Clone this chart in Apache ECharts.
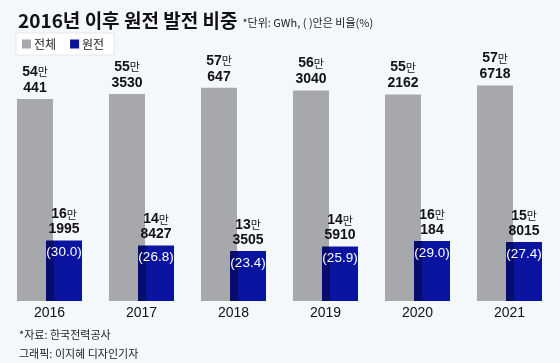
<!DOCTYPE html>
<html><head><meta charset="utf-8">
<script src="https://cdn.jsdelivr.net/npm/echarts@6/dist/echarts.min.js"></script>
<style>html,body{margin:0;padding:0;background:#f4f8fc}#c{width:560px;height:363px}</style>
</head><body><div id="c"></div>
<script>
var years = ['2016','2017','2018','2019','2020','2021'];
var totalGen = [540441, 553530, 570647, 563040, 552162, 576718];
var nuclearGen = [161995, 148427, 133505, 145910, 160184, 158015];
var nuclearShare = ['30.0','26.8','23.4','25.9','29.0','27.4'];

var FN = '"Liberation Sans", "Noto Sans CJK KR", sans-serif';
var FK = '"Noto Sans CJK KR", sans-serif';
var GRAY = '#a7a8ab', BLUE = '#0b14a0', DARK = '#070d6c';

function man(v){ return Math.floor(v/10000); }
function rest(v){ return v % 10000; }

var chart = echarts.init(document.getElementById('c'), null, {renderer:'canvas'});
chart.setOption({
  backgroundColor: '#f4f8fc',
  animation: false,
  title: [{
    left: 13, top: 6,
    text: '{t|2016년 이후 원전 발전 비중} {s|*단위: GWh, ( )안은 비율(%)}',
    textStyle: { rich: {
      t: { fontFamily: FK, fontSize: 19, fontWeight: 'bold', color: '#111' },
      s: { fontFamily: FK, fontSize: 11, fontWeight: 'normal', color: '#222', padding: [4,0,0,0] }
    }}
  },{
    left: 14, top: 320,
    text: '*자료: 한국전력공사\n그래픽: 이지혜 디자인기자',
    textStyle: { fontFamily: FK, fontSize: 11, fontWeight: 'normal', color: '#222', lineHeight: 19 }
  }],
  legend: {
    left: 16, top: 33,
    backgroundColor: '#ffffff', borderColor: '#e3e7ec', borderWidth: 1,
    padding: [5, 10, 5, 6],
    itemWidth: 9, itemHeight: 9, itemGap: 14, icon: 'rect',
    textStyle: { fontFamily: FK, fontSize: 12, color: '#222', padding: [0,0,0,-2] },
    data: [{name:'전체', itemStyle:{color:GRAY}}, {name:'원전', itemStyle:{color:BLUE}}]
  },
  grid: { left: 3.5, width: 552, top: 76.7, bottom: 62 },
  xAxis: {
    type: 'category', data: years,
    axisLine: {show:false}, axisTick: {show:false},
    axisLabel: { fontFamily: FN, fontSize: 14, color: '#111', margin: 5 }
  },
  yAxis: { type: 'value', min: 0, max: 600000, show: false, splitLine: {show:false} },
  series: [{
    name: '전체', type: 'bar', data: totalGen, barWidth: 36, barGap: '-19.4%',
    itemStyle: { color: GRAY },
    label: {
      show: true, position: 'top', distance: 3,
      formatter: function(p){ return '{a|' + man(p.value) + '}{b|만}\n{a|' + rest(p.value) + '}'; },
      rich: {
        a: { fontFamily: FN, fontSize: 14, fontWeight: 'bold', color: '#111', lineHeight: 16 },
        b: { fontFamily: FK, fontSize: 11, color: '#111', lineHeight: 16 }
      }
    }
  },{
    name: '원전', type: 'bar', data: nuclearGen, barWidth: 36,
    itemStyle: { color: new echarts.graphic.LinearGradient(0,0,1,0,[
      {offset:0, color:DARK},{offset:0.21, color:DARK},{offset:0.21, color:BLUE},{offset:1, color:BLUE}]) },
    label: {
      show: true, position: 'insideTop', distance: 0, offset: [0, -33.5],
      formatter: function(p){ return '{a|' + man(p.value) + '}{b|만}\n{a|' + rest(p.value) + '}\n{c|(' + nuclearShare[p.dataIndex] + ')}'; },
      rich: {
        a: { fontFamily: FN, fontSize: 14, fontWeight: 'bold', color: '#111', lineHeight: 15 },
        b: { fontFamily: FK, fontSize: 11, color: '#111', lineHeight: 15 },
        c: { fontFamily: FN, fontSize: 13.5, color: '#ffffff', lineHeight: 31 }
      }
    }
  }]
});
</script></body></html>
